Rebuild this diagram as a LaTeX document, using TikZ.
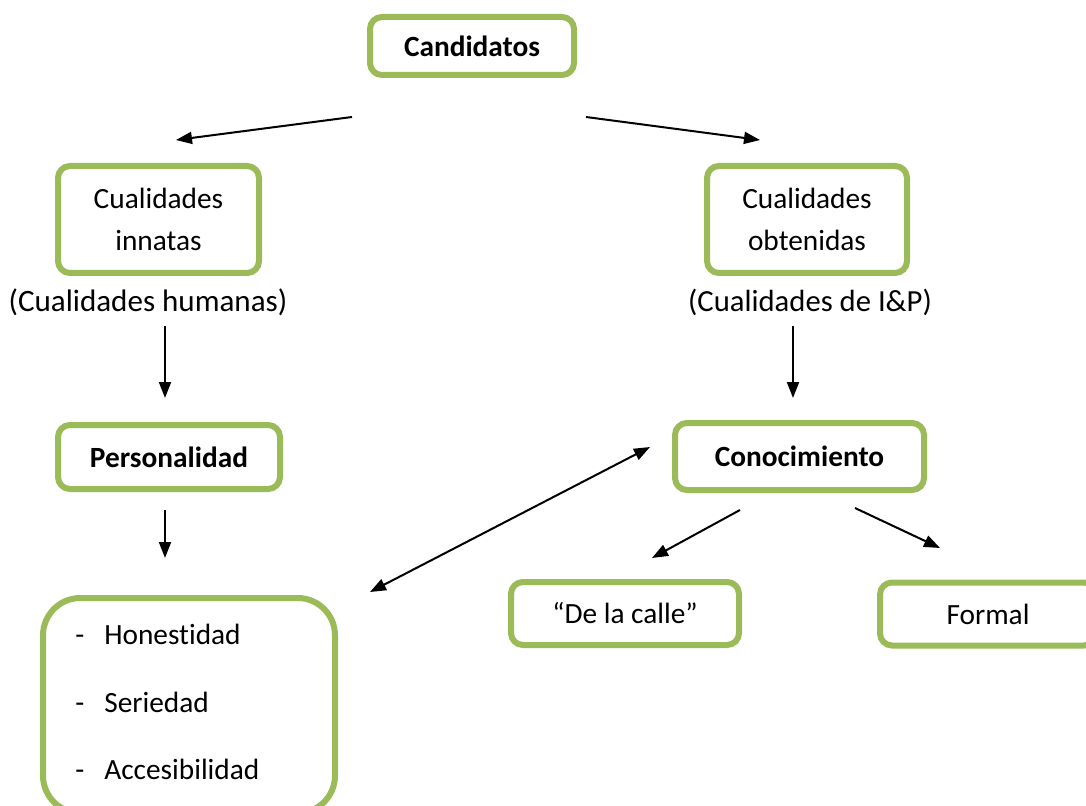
\documentclass[tikz,border=0pt]{standalone}
\usepackage{fontspec}
\setmainfont[Ligatures=NoCommon]{Carlito}
\usetikzlibrary{arrows.meta}
\definecolor{boxgreen}{HTML}{9BBB59}
\begin{document}
\begin{tikzpicture}[x=0.75pt,y=-0.75pt,
  gbox/.style={draw=boxgreen,line width=4.5pt,rounded corners=9pt,fill=white,
    align=center,inner sep=0pt,font=\fontsize{22}{32}\selectfont},
  lbl/.style={inner sep=0pt,font=\fontsize{22}{32}\selectfont},
  arr/.style={line width=1.5pt,-{Triangle[length=12pt,width=9pt]}},
  darr/.style={line width=1.5pt,{Triangle[length=12pt,width=9pt]}-{Triangle[length=12pt,width=9pt]}}]
\useasboundingbox (0,0) rectangle (1086,806);
\clip (0,0) rectangle (1086,806);
\node[gbox,minimum width=204*0.75pt,minimum height=58*0.75pt,font=\fontsize{22}{32}\selectfont\bfseries] (cand) at (472,46) {Candidatos};
\node[gbox,minimum width=201*0.75pt,minimum height=107*0.75pt] (inn) at (158.5,219.5) {Cualidades\\innatas};
\node[gbox,minimum width=200*0.75pt,minimum height=107*0.75pt] (obt) at (807,219.5) {Cualidades\\obtenidas};
\node[lbl,font=\fontsize{23.3}{32}\selectfont] (hum) at (148,302) {(Cualidades humanas)};
\node[lbl,font=\fontsize{23}{32}\selectfont] (ip) at (810,302) {(Cualidades de I\&P)};
\node[gbox,minimum width=222*0.75pt,minimum height=64*0.75pt,font=\fontsize{22}{32}\selectfont\bfseries] (pers) at (169,457) {Personalidad};
\node[gbox,minimum width=249*0.75pt,minimum height=67*0.75pt,font=\fontsize{22}{32}\selectfont\bfseries] (con) at (799.5,456.5) {Conocimiento};
\node[gbox,minimum width=228*0.75pt,minimum height=63*0.75pt] (calle) at (625,613.5) {“De la calle”};
\node[gbox,minimum width=216*0.75pt,minimum height=63*0.75pt] (formal) at (988,614) {Formal};
\node[gbox,rounded corners=28pt,minimum width=292*0.75pt,minimum height=215*0.75pt,anchor=north] (list) at (189,595) {};
\node[lbl,anchor=base west] (i1) at (75,644) {\makebox[21.8pt][l]{-}Honestidad};
\node[lbl,anchor=base west] (i2) at (75,712) {\makebox[21.8pt][l]{-}Seriedad};
\node[lbl,anchor=base west] (i3) at (75,779) {\makebox[21.8pt][l]{-}Accesibilidad};
\coordinate (a1s) at (352,117); \coordinate (a1e) at (176,140);
\coordinate (a2s) at (586,117); \coordinate (a2e) at (760,140);
\coordinate (a3s) at (165,326); \coordinate (a3e) at (165,398);
\coordinate (a4s) at (793,326); \coordinate (a4e) at (793,398);
\coordinate (a5s) at (165,510); \coordinate (a5e) at (165,558);
\coordinate (a6s) at (370,592); \coordinate (a6e) at (650,447);
\coordinate (a7s) at (740,510); \coordinate (a7e) at (652,558);
\coordinate (a8s) at (855,508); \coordinate (a8e) at (940,548);
\draw[arr] (a1s) -- (a1e);
\draw[arr] (a2s) -- (a2e);
\draw[arr] (a3s) -- (a3e);
\draw[arr] (a4s) -- (a4e);
\draw[arr] (a5s) -- (a5e);
\draw[darr] (a6s) -- (a6e);
\draw[arr] (a7s) -- (a7e);
\draw[arr] (a8s) -- (a8e);
\end{tikzpicture}
\end{document}
